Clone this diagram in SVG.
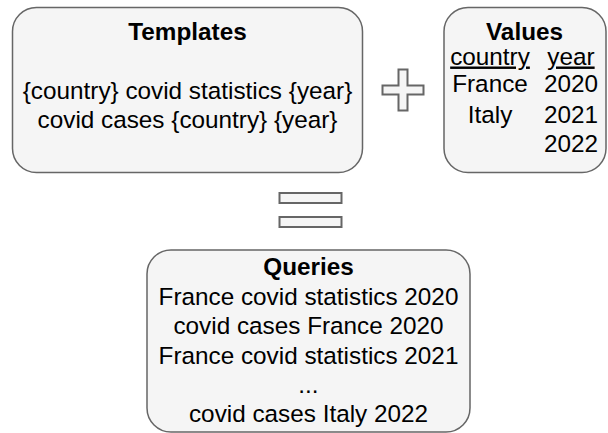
<svg xmlns="http://www.w3.org/2000/svg" width="608" height="433" viewBox="0 0 608 433">
<style>
.box{fill:#f5f5f5;stroke:#666666;stroke-width:1.5}
.sym{fill:#f5f5f5;stroke:#666666;stroke-width:2}
text{font-family:"Liberation Sans",Arial,sans-serif;font-size:24.3px;fill:#000;text-anchor:middle}
.b{font-weight:bold}
.u{text-decoration:underline}
</style>
<rect width="608" height="433" fill="#ffffff"/>
<g id="templates">
<rect class="box" x="12.5" y="7.5" width="350" height="165" rx="24" ry="24"/>
<text class="b" x="187.5" y="40">Templates</text>
<text x="187.5" y="99">{country} covid statistics {year}</text>
<text x="187.5" y="128">covid cases {country} {year}</text>
</g>
<g id="plus">
<path class="sym" d="M398.5,69.5 H407.5 V85.5 H423.5 V94.5 H407.5 V110.5 H398.5 V94.5 H382.5 V85.5 H398.5 Z"/>
</g>
<g id="values">
<rect class="box" x="444" y="7.5" width="162" height="165" rx="24" ry="24"/>
<text class="b" x="524.5" y="40">Values</text>
<text class="u" x="490" y="64.5">country</text>
<text class="u" x="571" y="64.5">year</text>
<text x="490" y="92">France</text>
<text x="571" y="92">2020</text>
<text x="490" y="123">Italy</text>
<text x="571" y="123">2021</text>
<text x="571" y="152">2022</text>
</g>
<g id="equals">
<rect class="sym" x="279.5" y="193" width="62" height="10"/>
<rect class="sym" x="279.5" y="217" width="62" height="10"/>
</g>
<g id="queries">
<rect class="box" x="147" y="250" width="323" height="182" rx="24" ry="24"/>
<text class="b" x="308.5" y="275">Queries</text>
<text x="308.5" y="304.5">France covid statistics 2020</text>
<text x="308.5" y="334">covid cases France 2020</text>
<text x="308.5" y="363.5">France covid statistics 2021</text>
<text x="308.5" y="393">...</text>
<text x="308.5" y="422">covid cases Italy 2022</text>
</g>
<g id="connectors"></g>
</svg>
